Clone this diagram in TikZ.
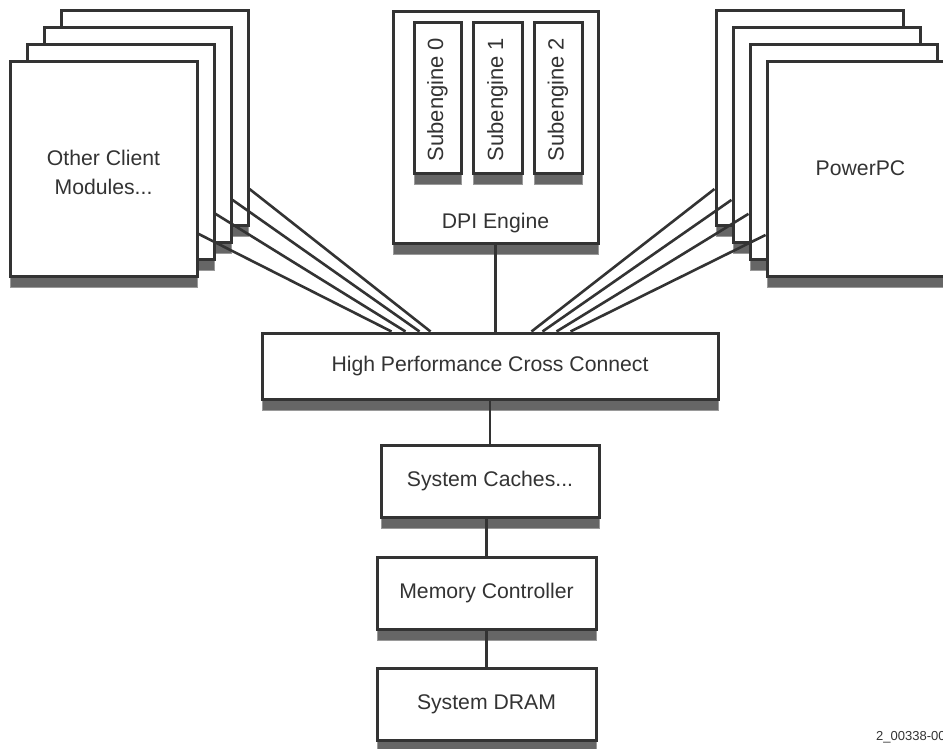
\documentclass[tikz,border=0pt]{standalone}
\usepackage{fontspec}
\setmainfont{Liberation Sans}
\usetikzlibrary{calc,shadows}
\definecolor{ink}{HTML}{333333}
\definecolor{shadowfill}{HTML}{666666}
\definecolor{shadowedge}{HTML}{9A9A9A}
\begin{document}
\begin{tikzpicture}[x=1pt,y=-1pt,
  blk/.style={draw=ink, fill=white, line width=3pt, inner sep=0pt, text=ink,
    font=\fontsize{21.2}{29}\selectfont, align=center,
    general shadow={shadow yshift=-11pt, fill=shadowfill, draw=shadowedge, line width=1pt}},
  txt/.style={text=ink, inner sep=0pt, align=center, font=\fontsize{21.2}{29}\selectfont},
  subtxt/.style={txt, rotate=90, font=\fontsize{22}{26}\selectfont},
  wire/.style={draw=ink, line width=2.6pt},
  stack/.style={blk, minimum width=187pt, minimum height=215pt}]
\useasboundingbox (0,0) rectangle (943,748);

% client module stack, back to front
\node[stack] (L4) at (154.5,117.5) {};
\node[stack] (L3) at (137.5,134.5) {};
\node[stack] (L2) at (120.5,151.5) {};
\node[stack] (L1) at (103.5,168.5) {};
\node[txt] (L1l) at ($(L1.center)+(0,4)$) {Other Client\\Modules...};

% PowerPC stack, back to front
\node[stack] (R4) at (809.5,117.5) {};
\node[stack] (R3) at (826.5,134.5) {};
\node[stack] (R2) at (843.5,151.5) {};
\node[stack] (R1) at (860.5,168.5) {PowerPC};

% DPI engine with its subengines
\node[blk, minimum width=205pt, minimum height=232pt] (dpi) at (495.5,127) {};
\node[txt] (dpil) at ($(dpi.south)+(0,-21)$) {DPI Engine};
\node[blk, minimum width=47pt, minimum height=151pt] (s0) at (437.5,97.5) {};
\node[blk, minimum width=49pt, minimum height=151pt] (s1) at (497.5,97.5) {};
\node[blk, minimum width=48pt, minimum height=151pt] (s2) at (558,97.5) {};
\node[subtxt] (s0l) at ($(s0.center)+(0,2)$) {Subengine 0};
\node[subtxt] (s1l) at ($(s1.center)+(0,2)$) {Subengine 1};
\node[subtxt] (s2l) at ($(s2.center)+(0,2)$) {Subengine 2};

% interconnect and memory path
\node[blk, minimum width=456pt, minimum height=66pt] (xc) at (490,366) {High Performance Cross Connect};
\node[blk, minimum width=218pt, minimum height=72pt] (cache) at (490,481) {System Caches...};
\node[blk, minimum width=219pt, minimum height=72pt] (mc) at (486.5,593) {Memory Controller};
\node[blk, minimum width=219pt, minimum height=72pt] (dram) at (486.5,704) {System DRAM};

% links from the client stacks into the cross connect
\draw[wire] ($(L4.north east)!0.828!(L4.south east)$) -- ($(xc.north west)+(170,0)$);
\draw[wire] ($(L3.north east)!0.800!(L3.south east)$) -- ($(xc.north west)+(159,0)$);
\draw[wire] ($(L2.north east)!0.786!(L2.south east)$) -- ($(xc.north west)+(145,0)$);
\draw[wire] ($(L1.north east)!0.800!(L1.south east)$) -- ($(xc.north west)+(131,0)$);
\draw[wire] ($(R4.north west)!0.828!(R4.south west)$) -- ($(xc.north west)+(271,0)$);
\draw[wire] ($(R3.north west)!0.800!(R3.south west)$) -- ($(xc.north west)+(282,0)$);
\draw[wire] ($(R2.north west)!0.786!(R2.south west)$) -- ($(xc.north west)+(296,0)$);
\draw[wire] ($(R1.north west)!0.805!(R1.south west)$) -- ($(xc.north west)+(310,0)$);

% vertical links
\draw[wire] (dpi.south) -- (dpi.south |- xc.north);
\draw[wire] (xc.south -| cache.north) -- (cache.north);
\draw[wire] (cache.south -| mc.north) -- (mc.north);
\draw[wire] (mc.south) -- (dram.north);

\node[text=ink, inner sep=0pt, anchor=base west, font=\fontsize{13}{15}\selectfont] (figid) at (876,740) {2\_00338-00};
\end{tikzpicture}
\end{document}
